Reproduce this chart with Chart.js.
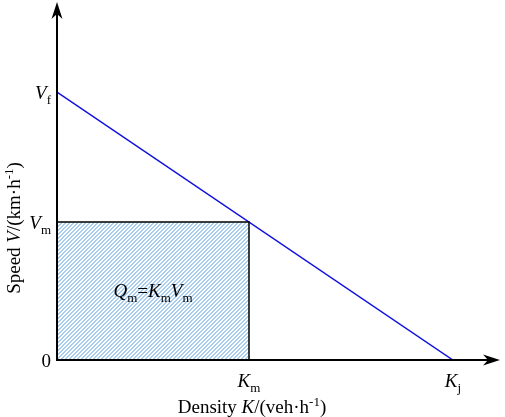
<!DOCTYPE html>
<html>
<head>
<meta charset="utf-8">
<script src="https://cdn.jsdelivr.net/npm/chart.js@4"></script>
<style>
  html, body { margin: 0; padding: 0; background: #fff; }
  canvas { display: block; }
</style>
</head>
<body>
<canvas id="chart" width="505" height="417"></canvas>
<script>
// Greenshields speed-density relation (normalised units)
const lineDensity = [0, 100];          // 0 .. Kj
const lineSpeed = [100, 0];            // Vf .. 0
const rectDensity = [0, 48.5, 48.5];   // outline of Qm box: 0 -> Km
const rectSpeed = [51.5, 51.5, 0];     // Vm -> 0
const xTickValues = [48.5, 100];
const xTickLabels = [['K', 'm'], ['K', 'j']];
const yTickValues = [0, 51.5, 100];
const yTickLabels = [['0', ''], ['V', 'm'], ['V', 'f']];

const FONT = "'Liberation Serif', 'DejaVu Serif', serif";
const SIZE = 19;
const SUB = 13;

// build a diagonal hatch pattern for the flow rectangle
function hatchPattern() {
  const c = document.createElement('canvas');
  c.width = 4;
  c.height = 4;
  const g = c.getContext('2d');
  g.fillStyle = '#ffffff';
  g.fillRect(0, 0, 4, 4);
  g.fillStyle = '#a9cdee';
  for (let i = 0; i < 4; i++) {
    g.fillRect(3 - i, i, 1, 1);
    g.fillRect((4 - i) % 4, i, 1, 1);
  }
  return g.createPattern(c, 'repeat');
}

// segments: [text, italic, 'base' | 'sub' | 'sup']
function segFont(s) {
  const size = s[2] === 'base' ? SIZE : SUB;
  return (s[1] ? 'italic ' : '') + size + 'px ' + FONT;
}

function richWidth(ctx, segs) {
  let w = 0;
  segs.forEach(s => { ctx.font = segFont(s); w += ctx.measureText(s[0]).width; });
  return w;
}

function drawRich(ctx, segs, x, y, align) {
  const w = richWidth(ctx, segs);
  let cx = align === 'center' ? x - w / 2 : align === 'right' ? x - w : x;
  ctx.textAlign = 'left';
  ctx.textBaseline = 'alphabetic';
  segs.forEach(s => {
    ctx.font = segFont(s);
    const dy = s[2] === 'sub' ? 5 : s[2] === 'sup' ? -7 : 0;
    ctx.fillText(s[0], cx, y + dy);
    cx += ctx.measureText(s[0]).width;
  });
}

function symbol(pair) {
  const segs = [[pair[0], pair[0] !== '0', 'base']];
  if (pair[1]) segs.push([pair[1], false, 'sub']);
  return segs;
}

function arrowHead(ctx, x, y, dir) {
  // dir: 'up' or 'right'; stealth style head with a notch
  const L = 17, W = 5.5, N = 5;
  ctx.beginPath();
  if (dir === 'up') {
    ctx.moveTo(x, y);
    ctx.lineTo(x - W, y + L);
    ctx.lineTo(x, y + L - N);
    ctx.lineTo(x + W, y + L);
  } else {
    ctx.moveTo(x, y);
    ctx.lineTo(x - L, y - W);
    ctx.lineTo(x - L + N, y);
    ctx.lineTo(x - L, y + W);
  }
  ctx.closePath();
  ctx.fill();
}

const annotations = {
  id: 'annotations',
  afterDatasetsDraw(chart) {
    const { ctx, chartArea, scales } = chart;
    const x0 = scales.x.getPixelForValue(0);
    const y0 = scales.y.getPixelForValue(0);
    ctx.save();
    ctx.strokeStyle = '#000';
    ctx.fillStyle = '#000';
    ctx.lineWidth = 2;
    ctx.beginPath();
    ctx.moveTo(x0, y0);
    ctx.lineTo(x0, chartArea.top + 8);
    ctx.moveTo(x0 - 1, y0);
    ctx.lineTo(chartArea.right - 8, y0);
    ctx.stroke();
    arrowHead(ctx, x0, chartArea.top, 'up');
    arrowHead(ctx, chartArea.right, y0, 'right');

    yTickValues.forEach((v, i) => {
      const py = scales.y.getPixelForValue(v);
      drawRich(ctx, symbol(yTickLabels[i]), x0 - 6, py + 7, 'right');
    });
    xTickValues.forEach((v, i) => {
      const px = scales.x.getPixelForValue(v);
      drawRich(ctx, symbol(xTickLabels[i]), px, y0 + 27, 'center');
    });

    // label inside the rectangle
    const cx = scales.x.getPixelForValue((rectDensity[0] + rectDensity[1]) / 2);
    const cy = scales.y.getPixelForValue(rectSpeed[0] / 2);
    drawRich(ctx, [
      ['Q', true, 'base'], ['m', false, 'sub'], ['=', false, 'base'],
      ['K', true, 'base'], ['m', false, 'sub'],
      ['V', true, 'base'], ['m', false, 'sub']
    ], cx, cy + 6, 'center');

    // axis titles
    drawRich(ctx, [
      ['Density ', false, 'base'], ['K', true, 'base'], ['/(veh·h', false, 'base'],
      ['-1', false, 'sup'], [')', false, 'base']
    ], 252, 413, 'center');

    ctx.translate(20, 228);
    ctx.rotate(-Math.PI / 2);
    drawRich(ctx, [
      ['Speed ', false, 'base'], ['V', true, 'base'], ['/(km·h', false, 'base'],
      ['-1', false, 'sup'], [')', false, 'base']
    ], 0, 0, 'center');
    ctx.restore();
  }
};

new Chart(document.getElementById('chart'), {
  type: 'line',
  data: {
    datasets: [
      {
        data: rectDensity.map((k, i) => ({ x: k, y: rectSpeed[i] })),
        borderColor: '#000',
        borderWidth: 1.5,
        backgroundColor: hatchPattern(),
        fill: 'origin',
        pointRadius: 0,
        tension: 0
      },
      {
        data: lineDensity.map((k, i) => ({ x: k, y: lineSpeed[i] })),
        borderColor: '#1010dd',
        borderWidth: 1.5,
        fill: false,
        pointRadius: 0,
        tension: 0
      }
    ]
  },
  options: {
    responsive: false,
    animation: false,
    layout: { padding: { left: 57, right: 5, top: 2, bottom: 57 } },
    plugins: {
      legend: { display: false },
      tooltip: { enabled: false }
    },
    scales: {
      x: { type: 'linear', min: 0, max: 111.9, display: false },
      y: { type: 'linear', min: 0, max: 133.6, display: false }
    }
  },
  plugins: [annotations]
});
</script>
</body>
</html>
